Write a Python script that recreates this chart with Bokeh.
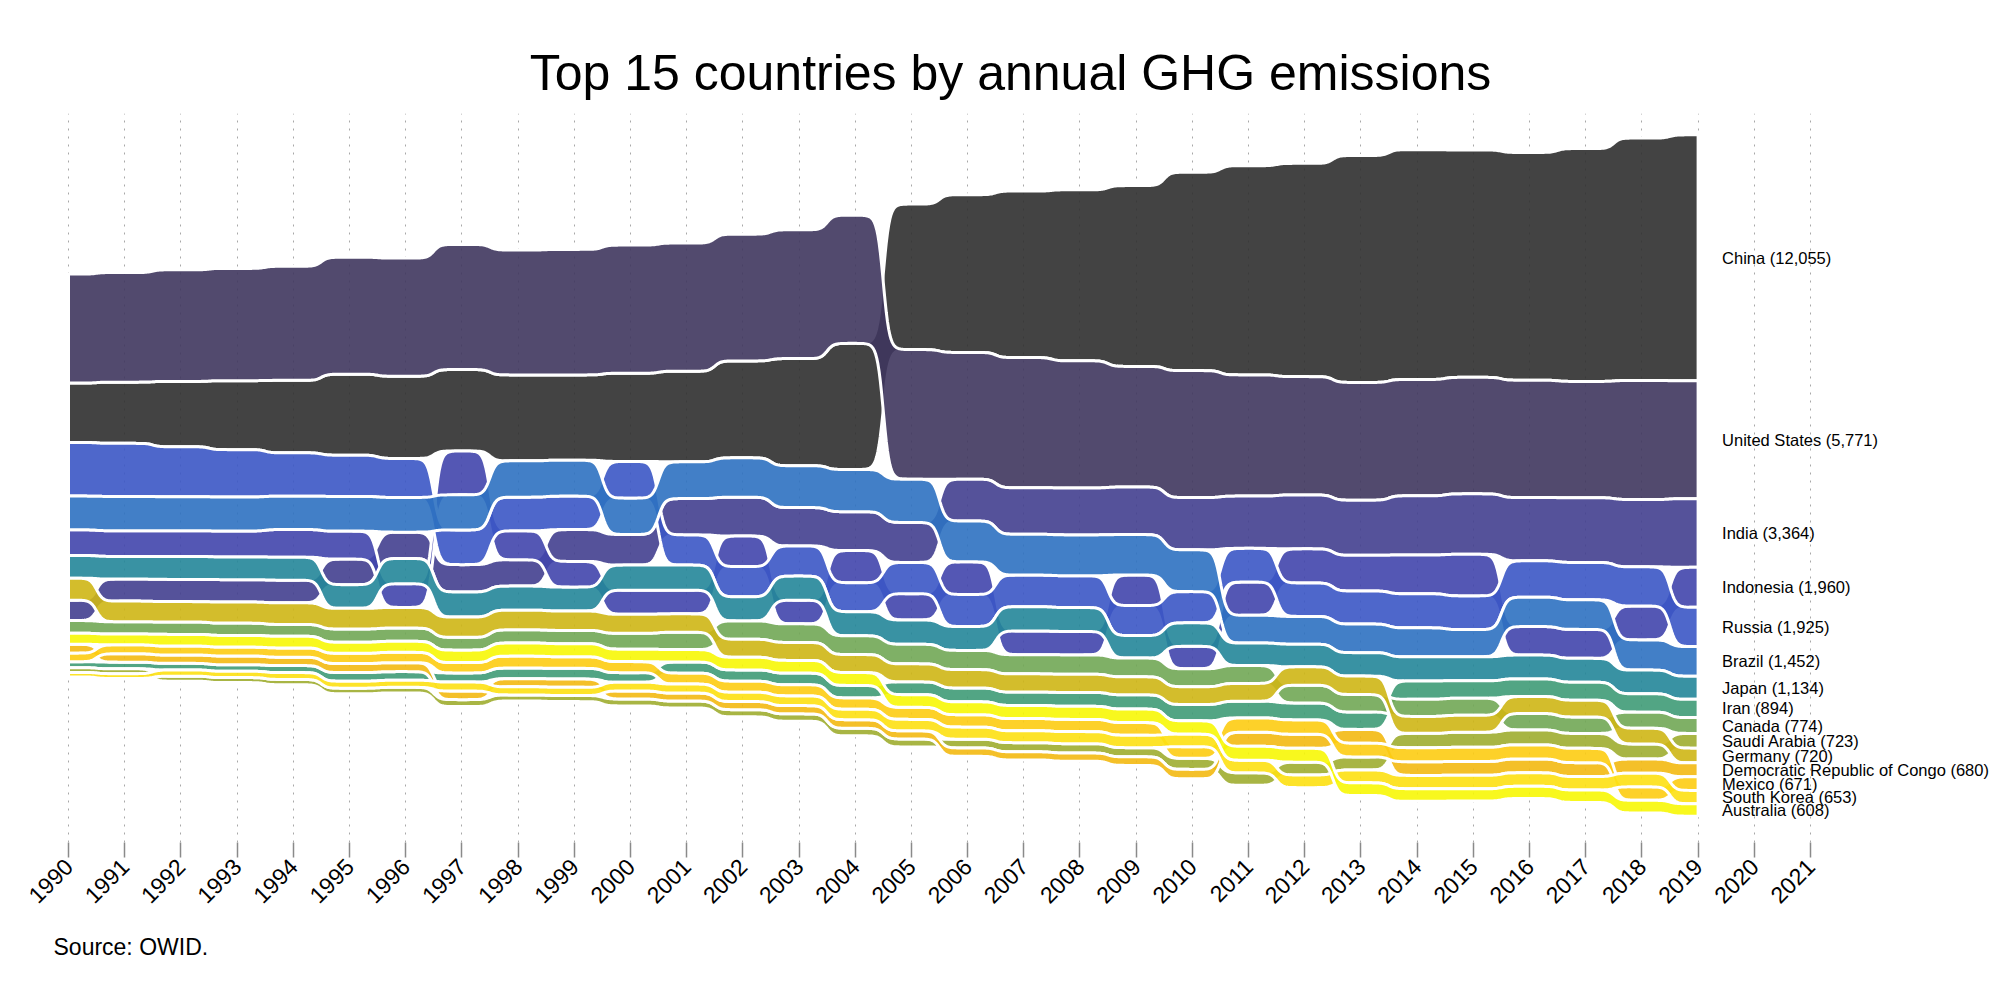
import math
import numpy as np
from bokeh.plotting import figure
from bokeh.models import Range1d, FixedTicker, LabelSet, ColumnDataSource, Title
from bokeh.core.properties import value
from bokeh.embed import file_html
from bokeh.resources import INLINE

FONT = "Liberation Sans"

years = list(range(1990, 2020))
tick_years = list(range(1990, 2022))

countries = ["China", "United States", "India", "Indonesia", "Russia", "Brazil", "Japan", "Iran",
             "Canada", "Saudi Arabia", "Germany", "Democratic Republic of Congo", "Mexico",
             "South Korea", "Australia"]

# Annual GHG emissions, Mt CO2e
china = [2910, 3000, 3200, 3380, 3550, 3970, 4030, 3990, 4210, 4180,
         4320, 4440, 4750, 5250, 6180, 7130, 7730, 8160, 8380, 8860,
         9720, 10250, 10450, 11120, 11260, 11140, 11160, 11410, 11880, 12055]
united_states = [5340, 5370, 5470, 5500, 5590, 5730, 5790, 6130, 6120, 6150,
                 6280, 6280, 6210, 6310, 6280, 6350, 6210, 6380, 6230, 5910,
                 6220, 5940, 5800, 5770, 5700, 5710, 5750, 5700, 5830, 5771]
india = [1000, 1080, 1090, 1100, 1110, 1255, 1290, 1340, 1290, 1560,
         1500, 1780, 1900, 1880, 1900, 1960, 2050, 2280, 2300, 2330,
         2560, 2560, 2640, 2700, 2900, 2960, 3100, 3170, 3300, 3364]
indonesia = [1260, 1260, 1260, 1275, 1355, 1370, 1160, 2150, 1420, 1260,
             1180, 1160, 1500, 1160, 1580, 1290, 1600, 1160, 1150, 1500,
             1100, 1630, 1670, 1750, 1900, 2040, 1400, 1420, 1660, 1960]
russia = [2630, 2600, 2450, 2320, 2125, 2020, 1910, 1700, 1650, 1640,
          1800, 1480, 1480, 1480, 1420, 1530, 1570, 1550, 1560, 1470,
          1530, 1650, 1640, 1620, 1670, 1650, 1780, 1830, 1920, 1925]
brazil = [1650, 1680, 1665, 1665, 1635, 1700, 1700, 1720, 1780, 1760,
          1780, 1800, 1930, 2050, 2070, 2120, 2000, 2000, 2000, 1980,
          2050, 1360, 1360, 1400, 1420, 1330, 1440, 1450, 1480, 1452]
japan = [1110, 1110, 1125, 1110, 1125, 1160, 1240, 1230, 1180, 1170,
         1230, 1230, 1180, 1180, 1180, 1190, 1170, 1190, 1170, 1100,
         1150, 1100, 1110, 1150, 1180, 1180, 1170, 1170, 1160, 1134]
iran = [295, 325, 325, 320, 345, 425, 425, 450, 520, 525,
        470, 545, 555, 575, 615, 630, 680, 660, 680, 700,
        800, 820, 830, 850, 900, 850, 860, 880, 900, 894]
canada = [620, 605, 605, 605, 580, 650, 650, 630, 650, 650,
          780, 850, 900, 910, 920, 960, 940, 940, 950, 920,
          880, 880, 870, 860, 840, 840, 810, 810, 790, 774]
saudi_arabia = [230, 240, 245, 245, 260, 275, 275, 340, 300, 300,
                340, 340, 350, 360, 370, 390, 430, 450, 460, 450,
                540, 610, 630, 640, 700, 740, 730, 730, 740, 723]
germany = [1080, 1010, 1000, 1030, 1060, 1010, 1010, 990, 960, 950,
           930, 900, 880, 880, 880, 880, 900, 890, 890, 880,
           870, 870, 900, 900, 830, 830, 830, 820, 770, 720]
dr_congo = [435, 410, 410, 430, 410, 440, 440, 420, 400, 405,
            390, 390, 400, 405, 420, 400, 410, 400, 400, 420,
            460, 690, 690, 680, 670, 680, 680, 680, 690, 680]
mexico = [420, 440, 440, 435, 455, 505, 505, 505, 585, 570,
          540, 535, 540, 545, 555, 590, 610, 600, 600, 620,
          570, 700, 700, 670, 690, 690, 690, 700, 660, 671]
south_korea = [220, 235, 305, 310, 335, 340, 345, 440, 395, 400,
               430, 440, 455, 475, 510, 560, 590, 580, 590, 610,
               620, 620, 620, 630, 650, 660, 660, 660, 670, 653]
australia = [540, 525, 570, 570, 570, 540, 540, 610, 640, 640,
             610, 610, 620, 620, 630, 620, 630, 640, 640, 660,
             650, 680, 680, 620, 620, 600, 600, 610, 620, 608]

series = [china, united_states, india, indonesia, russia, brazil, japan, iran,
          canada, saudi_arabia, germany, dr_congo, mexico, south_korea, australia]

colors = ["#444444", "#524a6e", "#55529a", "#5458b4", "#4f67cb", "#427fc7", "#3992a3",
          "#52a585", "#7fb066", "#a8b545", "#d3bd2c", "#f4c02a", "#fdd12a", "#fde32a", "#f8f81e"]

FILL_ALPHA = 0.9


def under_alpha(hex_color, a):
    """Colour that, drawn at alpha a over white, shows as hex_color."""
    h = hex_color.lstrip("#")
    rgb = [int(h[k:k + 2], 16) for k in (0, 2, 4)]
    out = [max(0, min(255, round((c - (1 - a) * 255) / a))) for c in rgb]
    return "#%02x%02x%02x" % tuple(out)


fill_colors = [under_alpha(c, FILL_ALPHA) for c in colors]

# ---- ranked, centred stacking per year ----
V = np.array(series, dtype=float)
n_c, n_y = V.shape
tops = np.zeros_like(V)
bots = np.zeros_like(V)
for j in range(n_y):
    order = np.argsort(-V[:, j], kind="stable")
    cur = V[:, j].sum() / 2.0
    for i in order:
        tops[i, j] = cur
        cur -= V[i, j]
        bots[i, j] = cur

# sigmoid transitions between years
K = 18.0
M = 48
t = np.linspace(0, 1, M)
s = 1 / (1 + np.exp(-K * (t - 0.5)))
s = (s - s[0]) / (s[-1] - s[0])

xs_all, ys_all = [], []
for i in range(n_c):
    xx, up, lo = [], [], []
    for j in range(n_y - 1):
        xx.extend(years[j] + t[:-1])
        up.extend(tops[i, j] + (tops[i, j + 1] - tops[i, j]) * s[:-1])
        lo.extend(bots[i, j] + (bots[i, j + 1] - bots[i, j]) * s[:-1])
    xx.append(years[-1]); up.append(tops[i, -1]); lo.append(bots[i, -1])
    xs_all.append(list(xx) + list(xx[::-1]))
    ys_all.append(list(up) + list(lo[::-1]))

band_src = ColumnDataSource(dict(xs=xs_all, ys=ys_all, color=fill_colors))

# ---- figure ----
px_per_year = 56.19
x_start = 1990 - 48 / px_per_year
x_end = 2021 + 190 / px_per_year
mt_per_px = 49.0
y_top = 362 * mt_per_px
y_bot = -367 * mt_per_px

p = figure(frame_width=1980, frame_height=729,
           x_range=Range1d(x_start, x_end), y_range=Range1d(y_bot, y_top),
           output_backend="svg", toolbar_location=None, y_axis_location=None,
           min_border_left=20, min_border_right=0, min_border_top=113, min_border_bottom=150,
           background_fill_color="white", border_fill_color="white")
p.outline_line_color = None

p.title.text = "Top 15 countries by annual GHG emissions"
p.title.align = "center"
p.title.text_font = FONT
p.title.text_font_size = "50px"
p.title.text_font_style = "normal"
p.title.text_color = "black"
p.title.standoff = 25
p.title.offset = -16

ticker = FixedTicker(ticks=tick_years)
p.xaxis.ticker = ticker
p.xaxis.major_label_orientation = math.pi / 4
p.xaxis.major_label_text_font = FONT
p.xaxis.major_label_text_font_size = "23px"
p.xaxis.major_label_text_color = "black"
p.xaxis.axis_line_color = None
p.xaxis.major_tick_line_color = "#8a8a8a"
p.xaxis.major_tick_line_width = 1.5
p.xaxis.major_tick_out = 15
p.xaxis.major_tick_in = 0
p.xaxis.minor_tick_line_color = None
p.xaxis.major_label_standoff = 5

p.xgrid.ticker = ticker
p.xgrid.grid_line_color = "#a8a8a8"
p.xgrid.grid_line_dash = "2 6"
p.xgrid.grid_line_width = 1
p.ygrid.visible = False

p.patches("xs", "ys", source=band_src, fill_color="color", fill_alpha=FILL_ALPHA,
          line_color="white", line_width=3, line_alpha=1.0)

# ---- end labels ----
last = n_y - 1
lab_x = [years[-1] + 24 / px_per_year] * n_c
lab_y = [(tops[i, last] + bots[i, last]) / 2 for i in range(n_c)]
lab_t = [f"{countries[i]} ({int(V[i, last]):,})" for i in range(n_c)]
lab_src = ColumnDataSource(dict(x=lab_x, y=lab_y, text=lab_t))
p.add_layout(LabelSet(x="x", y="y", text="text", source=lab_src,
                      text_font=value(FONT), text_font_size=value("16.5px"),
                      text_baseline="middle", text_align="left", text_color="black"))

src_title = Title(text="Source: OWID.", align="left", text_font=FONT, text_font_size="23px",
                  text_font_style="normal", text_color="black", offset=33, standoff=36)
p.add_layout(src_title, "below")

open("out.html", "w").write(file_html(p, INLINE, title="GHG emissions"))
